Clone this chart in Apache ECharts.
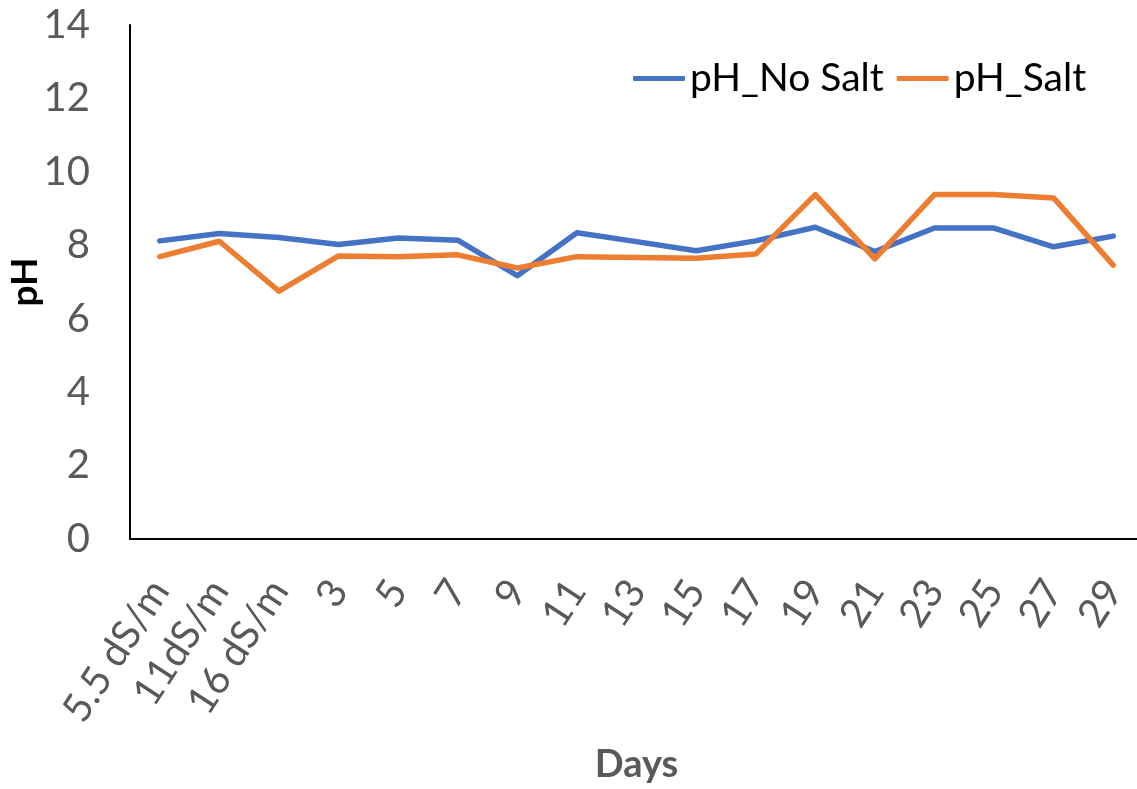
<!DOCTYPE html>
<html>
<head>
<meta charset="utf-8">
<script src="https://cdn.jsdelivr.net/npm/echarts@6/dist/echarts.min.js"></script>
<style>
html,body{margin:0;padding:0;background:#fff;}
#chart{width:1137px;height:789px;}
</style>
</head>
<body>
<div id="chart"></div>
<script>
const categories = ['5.5 dS/m','11dS/m','16 dS/m','3','5','7','9','11','13','15','17','19','21','23','25','27','29'];
const phNoSalt = [8.12, 8.32, 8.21, 8.02, 8.20, 8.14, 7.17, 8.34, 8.10, 7.85, 8.12, 8.49, 7.83, 8.47, 8.47, 7.96, 8.25];
const phSalt   = [7.69, 8.11, 6.75, 7.71, 7.69, 7.74, 7.38, 7.69, 7.67, 7.65, 7.76, 9.38, 7.63, 9.38, 9.38, 9.29, 7.46];
const yTicks = [0, 2, 4, 6, 8, 10, 12, 14];

const font = 'Lato, "Open Sans", "Noto Sans", sans-serif';
const chart = echarts.init(document.getElementById('chart'));
chart.setOption({
  animation: false,
  textStyle: { fontFamily: font },
  grid: { left: 130, right: -6, top: 25, bottom: 250, containLabel: false, outerBoundsMode: 'none' },
  legend: {
    left: 628, top: 54,
    itemWidth: 52, itemHeight: 5, itemGap: 13,
    icon: 'roundRect',
    textStyle: { fontSize: 39, color: '#000', fontFamily: font },
    data: ['pH_No Salt', 'pH_Salt']
  },
  xAxis: {
    type: 'category',
    data: categories,
    boundaryGap: true,
    name: 'Days',
    nameLocation: 'middle',
    nameGap: 207,
    nameMoveOverlap: false,
    nameTextStyle: { fontSize: 38, fontWeight: 'bold', color: '#595959', fontFamily: font },
    axisLine: { lineStyle: { color: '#000', width: 2 } },
    axisTick: { show: false },
    axisLabel: { rotate: 57, fontSize: 40, color: '#595959', margin: 45, interval: 0, fontFamily: font }
  },
  yAxis: {
    type: 'value',
    min: yTicks[0], max: yTicks[yTicks.length - 1], interval: 2,
    name: 'pH',
    nameLocation: 'middle',
    nameGap: 86,
    nameMoveOverlap: false,
    nameTextStyle: { fontSize: 37, fontWeight: 'bold', color: '#000', fontFamily: font },
    axisLine: { show: true, lineStyle: { color: '#000', width: 2 } },
    axisTick: { show: false },
    splitLine: { show: false },
    axisLabel: { fontSize: 40, color: '#595959', margin: 40, fontFamily: font }
  },
  series: [
    { name: 'pH_No Salt', type: 'line', data: phNoSalt, symbol: 'none', lineStyle: { width: 5.5, color: '#4472C4', cap: 'round', join: 'round' }, itemStyle: { color: '#4472C4' } },
    { name: 'pH_Salt', type: 'line', data: phSalt, symbol: 'none', lineStyle: { width: 5.5, color: '#ED7D31', cap: 'round', join: 'round' }, itemStyle: { color: '#ED7D31' } }
  ]
});
</script>
</body>
</html>
